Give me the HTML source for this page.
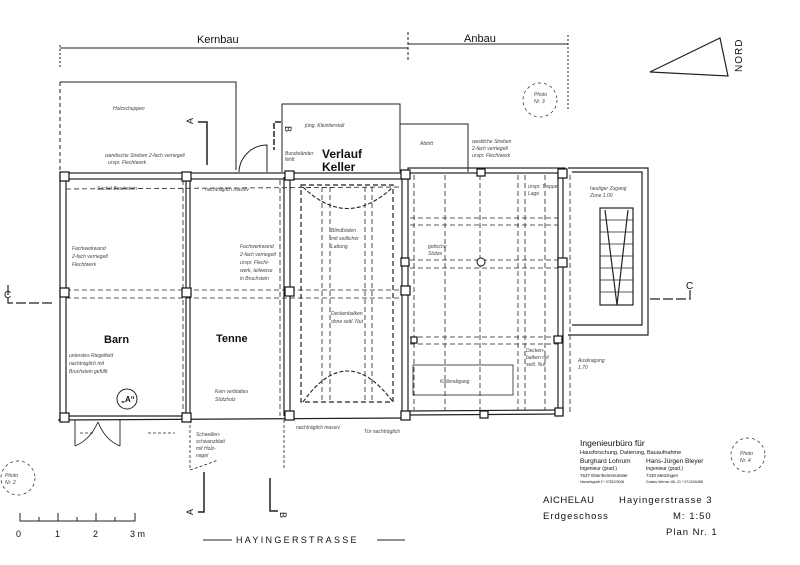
<!DOCTYPE html>
<html><head><meta charset="utf-8"><style>
html,body{margin:0;padding:0;background:#fff;}
svg{display:block;}
text{font-family:"Liberation Sans",sans-serif;fill:#111;}
.h{font-size:5px;fill:#444;font-style:italic;}
</style></head><body>
<svg width="800" height="565" viewBox="0 0 800 565" xmlns="http://www.w3.org/2000/svg">
<g stroke="#222" fill="none" stroke-width="1">
<line x1="60" y1="48" x2="408" y2="48"/><line x1="408" y1="44" x2="568" y2="44"/>
<line x1="408" y1="32" x2="408" y2="62" stroke-dasharray="3,2"/>
<line x1="60" y1="45" x2="60" y2="68" stroke-dasharray="2,2"/>
<line x1="568" y1="35" x2="568" y2="110" stroke-dasharray="2,2"/>
<polygon points="650,72 720,38 728,76" stroke-width="1.2"/>
<line x1="60" y1="82" x2="60" y2="172" stroke-dasharray="4,3"/>
<polyline points="60,82 236,82 236,170"/>
<polyline points="282,172 282,104 400,104 400,172"/>
<polyline points="400,124 468,124 468,172"/>
<path d="M239,172 A28,28 0 0 1 267,145 L267,172"/>
<polyline points="198,122 207,122 207,165" stroke-width="1.5"/>
<polyline points="281,122 274,122 274,150" stroke-width="1.5" stroke-dasharray="6,2"/>
<polyline points="204,472 204,512 198,512" stroke-width="1.5"/>
<polyline points="270,478 270,511 278,511" stroke-width="1.5"/>
<polyline points="8,285 8,303 55,303" stroke-width="1.2" stroke-dasharray="10,3"/>
<polyline points="650,299 690,299 690,290" stroke-width="1.2" stroke-dasharray="10,3"/>
<g stroke-width="1.2">
<rect x="60" y="173" width="348" height="6"/>
<line x1="60" y1="179" x2="60" y2="420"/><line x1="66" y1="179" x2="66" y2="417"/>
<line x1="186" y1="179" x2="186" y2="418"/><line x1="190" y1="179" x2="190" y2="418"/>
<line x1="284" y1="177" x2="284" y2="416"/><line x1="290" y1="177" x2="290" y2="416"/>
<line x1="402" y1="176" x2="402" y2="415"/><line x1="408" y1="176" x2="408" y2="415"/>
<line x1="58" y1="420" x2="408" y2="418"/><line x1="66" y1="416" x2="186" y2="416"/>
<rect x="408" y="168" width="157" height="5"/>
<line x1="408" y1="415" x2="562" y2="414"/><line x1="408" y1="411" x2="558" y2="410"/>
<line x1="558" y1="173" x2="558" y2="410"/><line x1="563" y1="173" x2="563" y2="414"/>
<polyline points="568,168 648,168 648,335 568,335"/>
<polyline points="572,172 642,172 642,325 572,325"/>
<rect x="600" y="208" width="33" height="97"/>
<line x1="605" y1="210" x2="617" y2="305"/><line x1="628" y1="210" x2="617" y2="305"/>
</g>
<g stroke-width="0.7">
<line x1="600" y1="220" x2="633" y2="220"/><line x1="600" y1="232" x2="633" y2="232"/><line x1="600" y1="244" x2="633" y2="244"/><line x1="600" y1="256" x2="633" y2="256"/><line x1="600" y1="268" x2="633" y2="268"/><line x1="600" y1="280" x2="633" y2="280"/><line x1="600" y1="292" x2="633" y2="292"/>
</g>
<g stroke-dasharray="5,3" stroke-width="0.8">
<line x1="66" y1="189" x2="402" y2="187"/>
<line x1="66" y1="290" x2="402" y2="290"/><line x1="66" y1="298" x2="402" y2="298"/>
<line x1="183" y1="180" x2="183" y2="416"/><line x1="280" y1="180" x2="280" y2="416"/>
<rect x="301" y="185" width="92" height="217" stroke-width="1.2"/>
<line x1="322" y1="187" x2="322" y2="400"/><line x1="330" y1="187" x2="330" y2="400"/>
<line x1="365" y1="187" x2="365" y2="400"/><line x1="372" y1="187" x2="372" y2="400"/>
<line x1="414" y1="175" x2="414" y2="410"/><line x1="445" y1="175" x2="445" y2="410"/>
<line x1="480" y1="175" x2="480" y2="410"/><line x1="518" y1="175" x2="518" y2="410"/>
<line x1="525" y1="175" x2="525" y2="410"/><line x1="545" y1="175" x2="545" y2="410"/>
<line x1="570" y1="175" x2="570" y2="415"/>
<line x1="410" y1="218" x2="558" y2="218"/><line x1="410" y1="225" x2="558" y2="225"/>
<line x1="410" y1="260" x2="558" y2="260"/><line x1="410" y1="268" x2="558" y2="268"/>
<line x1="410" y1="337" x2="558" y2="337"/><line x1="410" y1="344" x2="558" y2="344"/>
</g>
<path d="M303,187 Q347,230 393,187" stroke-dasharray="4,2" stroke-width="1.1"/>
<path d="M303,402 Q347,340 393,402" stroke-dasharray="4,2" stroke-width="1.1"/>
<rect x="413" y="365" width="100" height="30" stroke-width="0.8"/>
<path d="M75,420 L75,446 M75,446 Q90,440 98,422 M120,420 L120,446 M120,446 Q105,440 98,422" stroke-width="0.9"/>
<line x1="80" y1="433" x2="93" y2="433" stroke-dasharray="3,2" stroke-width="0.7"/>
<line x1="148" y1="433" x2="175" y2="433" stroke-dasharray="3,2" stroke-width="0.7"/>
<path d="M190,420 L190,470 Q205,465 218,460" stroke-dasharray="3,2" stroke-width="0.8"/>
<line x1="284" y1="420" x2="284" y2="468" stroke-dasharray="3,2" stroke-width="0.8"/>
<circle cx="127" cy="399" r="10"/>
<circle cx="18" cy="478" r="17" stroke-dasharray="3,3" stroke-width="0.7"/>
<circle cx="540" cy="100" r="17" stroke-dasharray="3,3" stroke-width="0.7"/>
<circle cx="748" cy="455" r="17" stroke-dasharray="3,3" stroke-width="0.7"/>
<polyline points="20,513 20,521 135,521 135,513"/>
<line x1="58" y1="513" x2="58" y2="521"/><line x1="96" y1="513" x2="96" y2="521"/>
<line x1="39" y1="517" x2="39" y2="521"/><line x1="77" y1="517" x2="77" y2="521"/><line x1="115" y1="517" x2="115" y2="521"/>
<line x1="203" y1="540" x2="232" y2="540"/><line x1="377" y1="540" x2="405" y2="540"/>
</g>
<g fill="#fff" stroke="#111" stroke-width="1.2">
<rect x="60" y="172" width="9" height="9"/><rect x="182" y="172" width="9" height="9"/>
<rect x="285" y="171" width="9" height="9"/><rect x="401" y="170" width="9" height="9"/>
<rect x="477" y="169" width="8" height="7"/><rect x="558" y="169" width="9" height="9"/>
<rect x="60" y="288" width="9" height="9"/><rect x="182" y="288" width="9" height="9"/>
<rect x="285" y="287" width="9" height="9"/><rect x="401" y="286" width="9" height="9"/>
<rect x="558" y="258" width="9" height="9"/><rect x="401" y="258" width="8" height="8"/>
<rect x="60" y="413" width="9" height="9"/><rect x="182" y="413" width="9" height="9"/>
<rect x="285" y="411" width="9" height="9"/><rect x="401" y="411" width="9" height="9"/>
<rect x="480" y="411" width="8" height="7"/><rect x="555" y="408" width="8" height="8"/>
<rect x="411" y="337" width="6" height="6"/><rect x="554" y="336" width="8" height="7"/>
</g>
<circle cx="481" cy="262" r="4" fill="#fff" stroke="#111"/>
<text x="197" y="43" font-size="11">Kernbau</text>
<text x="464" y="42" font-size="11">Anbau</text>
<text x="742" y="72" font-size="10" transform="rotate(-90 742 72)" letter-spacing="1">NORD</text>
<text x="322" y="158" font-size="12" font-weight="bold">Verlauf</text>
<text x="322" y="171" font-size="12" font-weight="bold">Keller</text>
<text x="104" y="343" font-size="11" font-weight="bold">Barn</text>
<text x="216" y="342" font-size="11" font-weight="bold">Tenne</text>
<text x="121" y="402" font-size="8" font-weight="bold">„A“</text>
<text x="4" y="298" font-size="10">C</text>
<text x="686" y="289" font-size="10">C</text>
<text x="193" y="124" font-size="9" transform="rotate(-90 193 124)">A</text>
<text x="285" y="126" font-size="9" transform="rotate(90 285 126)">B</text>
<text x="187" y="515" font-size="9" transform="rotate(-90 190 512)">A</text>
<text x="283" y="515" font-size="9" transform="rotate(90 283 512)">B</text>
<text x="16" y="537" font-size="9">0</text><text x="55" y="537" font-size="9">1</text><text x="93" y="537" font-size="9">2</text><text x="130" y="537" font-size="9">3 m</text>
<text x="236" y="543" font-size="9" letter-spacing="2.3">HAYINGERSTRASSE</text>
<text x="580" y="446" font-size="8.5">Ingenieurbüro für</text>
<text x="580" y="454" font-size="5.5">Hausforschung, Datierung, Bauaufnahme</text>
<text x="580" y="463" font-size="6.5">Burghard Lohrum</text><text x="646" y="463" font-size="6.5">Hans-Jürgen Bleyer</text>
<text x="580" y="470" font-size="5">Ingenieur (grad.)</text><text x="646" y="470" font-size="5">Ingenieur (grad.)</text>
<text x="580" y="477" font-size="4.5">7637 Ettenheimmünster</text><text x="646" y="477" font-size="4.5">7430 Metzingen</text>
<text x="580" y="483" font-size="3.5">Hanselsgraft 2 * 07822/9036</text><text x="646" y="483" font-size="3.5">Gustav-Werner-Str. 21 * 07123/6458</text>
<text x="543" y="503" font-size="9.5" letter-spacing="0.5">AICHELAU</text>
<text x="619" y="503" font-size="9.5" letter-spacing="1">Hayingerstrasse  3</text>
<text x="543" y="519" font-size="9.5" letter-spacing="1">Erdgeschoss</text>
<text x="673" y="519" font-size="9.5" letter-spacing="1">M: 1:50</text>
<text x="666" y="535" font-size="9.5" letter-spacing="1">Plan  Nr. 1</text>
<text x="113" y="110" class="h">Holzschuppen</text>
<text x="105" y="157" class="h">wandische Streben 2-fach verriegelt</text>
<text x="108" y="164" class="h">urspr. Flechtwerk</text>
<text x="97" y="190" class="h">Sockel Bruchstein</text>
<text x="205" y="191" class="h">nachträglich massiv</text>
<text x="305" y="127" class="h">jüng. Kleintierstall</text>
<text x="285" y="155" class="h">Bundständer</text><text x="285" y="161" class="h">fehlt</text>
<text x="420" y="145" class="h">Abtritt</text>
<text x="472" y="143" class="h">westliche Streben</text><text x="472" y="150" class="h">2-fach verriegelt</text><text x="472" y="157" class="h">urspr. Flechtwerk</text>
<text x="590" y="190" class="h">heutiger Zugang</text><text x="590" y="197" class="h">Zone 1.00</text>
<text x="72" y="250" class="h">Fachwerkwand</text><text x="72" y="258" class="h">2-fach verriegelt</text><text x="72" y="266" class="h">Flechtwerk</text>
<text x="240" y="248" class="h">Fachwerkwand</text><text x="240" y="256" class="h">2-fach verriegelt</text><text x="240" y="264" class="h">urspr. Flecht-</text><text x="240" y="272" class="h">werk, teilweise</text><text x="240" y="280" class="h">in Bruchstein</text>
<text x="331" y="232" class="h">Blindböden</text><text x="331" y="240" class="h">mit seitlicher</text><text x="331" y="248" class="h">Lattung</text>
<text x="331" y="315" class="h">Deckenbalken</text><text x="331" y="323" class="h">ohne seitl. Nut</text>
<text x="69" y="357" class="h">unterstes Riegelfeld</text><text x="69" y="365" class="h">nachträglich mit</text><text x="69" y="373" class="h">Bruchstein gefüllt</text>
<text x="215" y="393" class="h">Kein verblattes</text><text x="215" y="401" class="h">Stützholz</text>
<text x="196" y="436" class="h">Schwellen-</text><text x="196" y="443" class="h">schwanzblatt</text><text x="196" y="450" class="h">mit Holz-</text><text x="196" y="457" class="h">nagel</text>
<text x="296" y="429" class="h">nachträglich massiv</text>
<text x="364" y="433" class="h">Tür nachträglich</text>
<text x="428" y="248" class="h">gotische</text><text x="428" y="255" class="h">Stütze</text>
<text x="528" y="188" class="h">urspr. Treppe</text><text x="528" y="195" class="h">Lage</text>
<text x="526" y="352" class="h">Decken-</text><text x="526" y="359" class="h">balken mit</text><text x="526" y="366" class="h">seitl. Nut</text>
<text x="578" y="362" class="h">Auskragung</text><text x="578" y="369" class="h">1.70</text>
<text x="440" y="383" class="h">Kellerabgang</text>
<text x="5" y="477" class="h">Photo</text><text x="5" y="484" class="h">Nr. 2</text>
<text x="534" y="96" class="h">Photo</text><text x="534" y="103" class="h">Nr. 3</text>
<text x="740" y="455" class="h">Photo</text><text x="740" y="462" class="h">Nr. 4</text>
</svg>
</body></html>
